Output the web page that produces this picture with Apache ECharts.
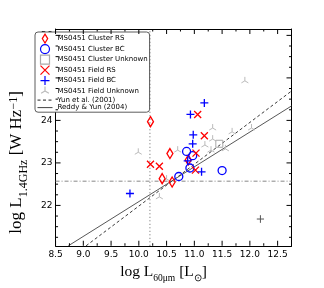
<!DOCTYPE html>
<html>
<head>
<meta charset="utf-8">
<script src="https://cdn.jsdelivr.net/npm/echarts@6/dist/echarts.min.js"></script>
<style>
html,body{margin:0;padding:0;background:#fff;}
#c{width:324px;height:288px;}
</style>
</head>
<body>
<div id="c"></div>
<script>
// ---- data (log L60um [Lsun], log L1.4GHz [W/Hz]) ----
var clusterRS = [[10.21,23.97],[10.56,23.22],[10.42,22.63],[10.60,22.55],[10.89,23.07]];
var clusterBC = [[10.72,22.68],[10.86,23.27],[10.97,23.17],[10.92,22.88],[11.50,22.82]];
var clusterUnknown = [[11.45,23.45]];
var fieldRS = [[10.21,22.97],[10.37,22.92],[11.06,24.14],[11.18,23.64],[11.03,23.23],[11.02,22.83]];
var fieldBC = [[9.84,22.28],[11.18,24.41],[10.93,24.14],[10.98,23.66],[10.97,23.45],[10.88,23.05],[11.13,22.79]];
var fieldUnknown = [[9.99,23.25],[10.37,22.20],[10.50,22.62],[10.70,23.30],[11.33,23.82],[11.33,23.56],
                    [11.19,23.42],[11.30,23.30],[11.56,23.33],[11.68,23.73],[11.91,24.93],[12.03,23.82]];
var yun2001 = [[9.05,21.05],[12.75,24.69]];
var reddyYun2004 = [[8.73,21.05],[12.75,24.34]];
var refX = 10.2;
var refY = 22.57;
var errorBar = [[12.19,21.68,0.065,0.09]];

var xMin = 8.5, xMax = 12.75, yMin = 21.05, yMax = 26.15;
var xMajor = [8.5,9.0,9.5,10.0,10.5,11.0,11.5,12.0,12.5];
var xMinor = [8.75,9.25,9.75,10.25,10.75,11.25,11.75,12.25];
var yMajor = [22,23,24,25,26];
var yMinor = [21.25,21.5,21.75,22.25,22.5,22.75,23.25,23.5,23.75,24.25,24.5,24.75,25.25,25.5,25.75];

var names = ['MS0451 Cluster RS','MS0451 Cluster BC','MS0451 Cluster Unknown',
             'MS0451 Field RS','MS0451 Field BC','MS0451 Field Unknown',
             'Yun et al. (2001)','Reddy & Yun (2004)'];

var SYM_DIAMOND = 'path://M3,0L6,5L3,10L0,5Z';
var SYM_SQUARE = 'path://M0,0L10,0L10,10L0,10Z';
var SYM_X = 'path://M0,0L10,10M10,0L0,10';
var SYM_PLUS = 'path://M5,0L5,10M0,5L10,5';
var SYM_TRI = 'path://M5,5L5,0M5,5L0.67,7.5M5,5L9.33,7.5M5,10L5,10';
var SYM_VTICK = 'path://M5,0L5,10M0,5L0,5M10,5L10,5';
var SYM_HTICK = 'path://M0,5L10,5M5,0L5,0M5,10L5,10';

var chart = echarts.init(document.getElementById('c'), null, {renderer:'canvas'});

function rich(main, sub){
  return {
    n:{fontSize:main,fontFamily:'Liberation Serif',lineHeight:main+3,verticalAlign:'top',color:'#000'},
    s:{fontSize:sub,fontFamily:'Liberation Serif',lineHeight:sub,padding:[main*0.6,0,0,0],verticalAlign:'top',color:'#000'},
    p:{fontSize:sub,fontFamily:'Liberation Serif',lineHeight:sub,padding:[0,0,main*0.55,0],verticalAlign:'top',color:'#000'}
  };
}

function xAxisDef(pos, major, showLabel){
  return {
    type:'value', min:xMin, max:xMax, interval: major?0.5:0.25, position:pos, gridIndex:0,
    axisLine:{show:major, onZero:false, lineStyle:{color:'#000',width:1}},
    axisTick:{show:false},
    axisLabel:{show:showLabel, customValues:xMajor, formatter:function(v){return v.toFixed(1);},
               fontSize:9, fontFamily:'DejaVu Sans', color:'#000', margin:4},
    splitLine:{show:false},
    name: showLabel ? '{n|log L}{s|60μm}{n| [L}{s|⊙}{n|]}' : '',
    nameLocation:'middle', nameGap:10,
    nameTextStyle:{rich:rich(15.5,9.5), padding:[0,20,0,0]}
  };
}
function yAxisDef(pos, major, showLabel){
  return {
    type:'value', min:yMin, max:yMax, position:pos, gridIndex:0,
    axisLine:{show:major, onZero:false, lineStyle:{color:'#000',width:1}},
    axisTick:{show:false},
    axisLabel:{show:showLabel, customValues:yMajor, fontSize:9, fontFamily:'DejaVu Sans', color:'#000', margin:3},
    splitLine:{show:false},
    name: showLabel ? '{n|log L}{s|1.4GHz}{n| [W Hz}{p|−1}{n|]}' : '',
    nameLocation:'middle', nameGap:8, nameRotate:90,
    nameTextStyle:{rich:rich(17,12), padding:[0,50,0,0]}
  };
}

function scatter(name, data, symbol, size, color, bw){
  return {
    type:'scatter', name:name, data:data, symbol:symbol, symbolSize:size, symbolKeepAspect:true,
    xAxisIndex:0, yAxisIndex:0, z:5,
    itemStyle:{color:'rgba(0,0,0,0)', borderColor:color, borderWidth:bw, opacity:1},
    emphasis:{disabled:true}
  };
}

// inward tick marks: line-shaped symbols placed on the axis edges through the scales
function tickMarks(name, data, vertical, len, offset){
  return {
    type:'scatter', name:name, data:data, symbol: vertical ? SYM_VTICK : SYM_HTICK,
    symbolSize: vertical ? [2, len] : [len, 2], symbolOffset: offset, symbolKeepAspect:false,
    xAxisIndex:0, yAxisIndex:0, z:6, clip:false, silent:true,
    itemStyle:{color:'rgba(0,0,0,0)', borderColor:'#000', borderWidth:1, opacity:1},
    emphasis:{disabled:true}
  };
}
function onX(vals, y){ return vals.map(function(v){ return [v, y]; }); }
function onY(vals, x){ return vals.map(function(v){ return [x, v]; }); }

var legendData = names.slice(0,6).concat([
  {name:names[6], itemStyle:{opacity:0}},
  {name:names[7], itemStyle:{opacity:0}}
]);

var option = {
  animation:false,
  backgroundColor:'#fff',
  grid:{left:32, right:32.5, top:29, bottom:30, containLabel:false},
  xAxis:[xAxisDef('bottom',true,true), xAxisDef('bottom',false,false), xAxisDef('top',true,false), xAxisDef('top',false,false)],
  yAxis:[yAxisDef('left',true,true), yAxisDef('left',false,false), yAxisDef('right',true,false), yAxisDef('right',false,false)],
  legend:{
    data:legendData, orient:'vertical', left:35, top:32,
    itemWidth:15, itemHeight:9, itemGap:0.3,
    padding:[1.5,2,1,2],
    backgroundColor:'#fff', borderColor:'#333', borderWidth:0.8, borderRadius:3,
    textStyle:{fontSize:7, fontFamily:'DejaVu Sans', color:'#000'},
    itemStyle:{borderWidth:1.2},
    lineStyle:{width:1},
    selectedMode:false
  },
  series:[
    {type:'line', name:'Yun et al. (2001)', data:yun2001, symbol:'circle', showSymbol:false, z:3, color:'#222',
     xAxisIndex:0, yAxisIndex:0, itemStyle:{color:'#222'},
     lineStyle:{color:'#222', width:0.9, type:[3,2.5]}, emphasis:{disabled:true}},
    {type:'line', name:'Reddy & Yun (2004)', data:reddyYun2004, symbol:'circle', showSymbol:false, z:3, color:'#444',
     xAxisIndex:0, yAxisIndex:0, itemStyle:{color:'#444'},
     lineStyle:{color:'#444', width:0.9}, emphasis:{disabled:true}},
    {type:'line', name:'refX', data:[[refX,yMin],[refX,yMax]], symbol:'none', z:2, xAxisIndex:0, yAxisIndex:0,
     lineStyle:{color:'#666', width:1, type:[1,2.5]}, emphasis:{disabled:true}},
    {type:'line', name:'refY', data:[[xMin,refY],[xMax,refY]], symbol:'none', z:2, xAxisIndex:0, yAxisIndex:0,
     lineStyle:{color:'#888', width:1, type:[4,2,1,2]}, emphasis:{disabled:true}},
    {type:'custom', name:'err', data:errorBar, z:4, xAxisIndex:0, yAxisIndex:0,
     encode:{x:0,y:1},
     renderItem:function(params, api){
       var x=api.value(0), y=api.value(1), ex=api.value(2), ey=api.value(3);
       var l=api.coord([x-ex,y]), r=api.coord([x+ex,y]), t=api.coord([x,y+ey]), b=api.coord([x,y-ey]);
       return {type:'group', children:[
         {type:'line', shape:{x1:l[0],y1:l[1],x2:r[0],y2:r[1]}, style:{stroke:'#555',lineWidth:1}},
         {type:'line', shape:{x1:t[0],y1:t[1],x2:b[0],y2:b[1]}, style:{stroke:'#555',lineWidth:1}}
       ]};
     }},
    tickMarks('tBotMaj', onX(xMajor, yMin), true, 5, [0,-2.5]),
    tickMarks('tBotMin', onX(xMinor, yMin), true, 2.5, [0,-1.25]),
    tickMarks('tTopMaj', onX(xMajor, yMax), true, 5, [0,2.5]),
    tickMarks('tTopMin', onX(xMinor, yMax), true, 2.5, [0,1.25]),
    tickMarks('tLeftMaj', onY(yMajor, xMin), false, 5, [2.5,0]),
    tickMarks('tLeftMin', onY(yMinor, xMin), false, 2.5, [1.25,0]),
    tickMarks('tRightMaj', onY(yMajor, xMax), false, 5, [-2.5,0]),
    tickMarks('tRightMin', onY(yMinor, xMax), false, 2.5, [-1.25,0]),
    scatter(names[5], fieldUnknown, SYM_TRI, 8, '#bbbbbb', 1),
    scatter(names[2], clusterUnknown, SYM_SQUARE, 7, '#aaaaaa', 1),
    scatter(names[0], clusterRS, SYM_DIAMOND, 10, '#ff0000', 1.3),
    scatter(names[1], clusterBC, 'circle', 8, '#0000ff', 1.3),
    scatter(names[3], fieldRS, SYM_X, 7, '#ff0000', 1.3),
    scatter(names[4], fieldBC, SYM_PLUS, 8, '#0000ff', 1.3)
  ]
};
chart.setOption(option);
</script>
</body>
</html>
